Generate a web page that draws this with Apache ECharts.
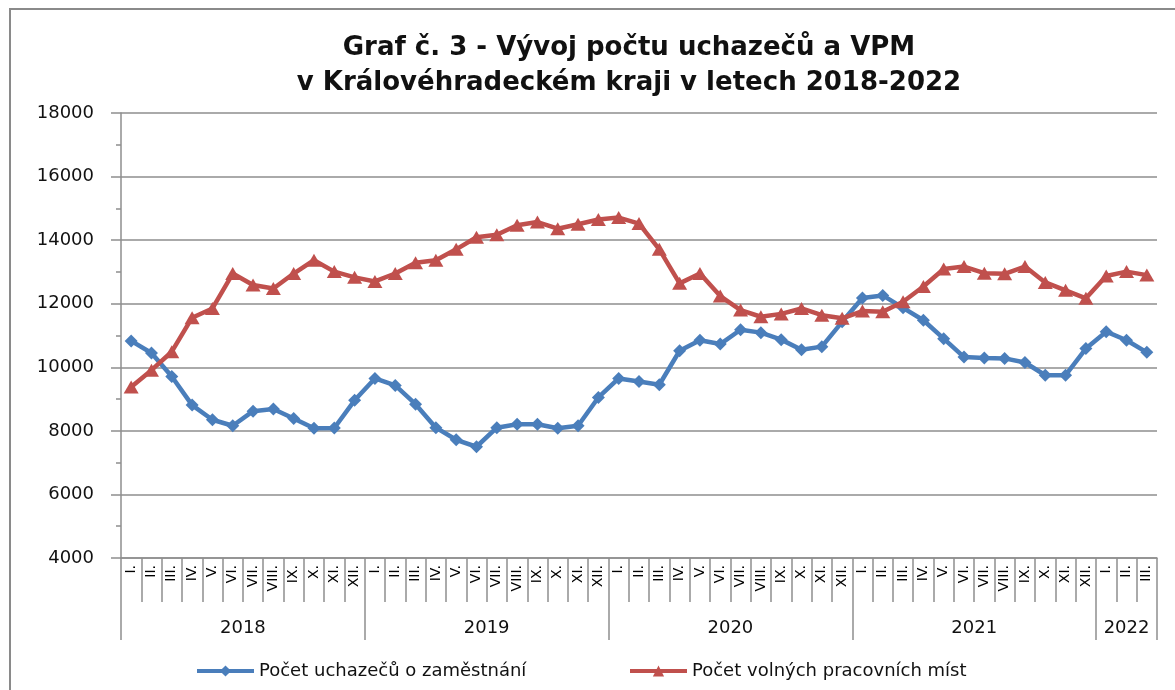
<!DOCTYPE html>
<html>
<head>
<meta charset="utf-8">
<script src="https://cdn.jsdelivr.net/npm/echarts@6/dist/echarts.min.js"></script>
<style>
html,body{margin:0;padding:0;background:#fff;}
#c{width:1175px;height:690px;}
</style>
</head>
<body>
<div id="c"></div>
<script>
const monthNames = ['I.','II.','III.','IV.','V.','VI.','VII.','VIII.','IX.','X.','XI.','XII.'];
const years = ['2018','2019','2020','2021','2022'];
const monthsPerYear = [12,12,12,12,3];
const yTicks = [4000,6000,8000,10000,12000,14000,16000,18000];

const uchazeci = [10830,10450,9710,8810,8350,8160,8620,8690,8390,8080,8090,8960,
  9650,9430,8840,8100,7720,7500,8100,8210,8210,8080,8160,9050,
  9650,9550,9450,10520,10850,10730,11180,11090,10870,10550,10650,11430,
  12180,12260,11870,11480,10900,10320,10290,10280,10150,9750,9750,10590,
  11120,10850,10470];
const vpm = [9380,9910,10490,11560,11850,12950,12590,12480,12950,13370,13010,12830,
  12700,12950,13290,13370,13710,14090,14170,14470,14570,14360,14500,14650,
  14710,14520,13710,12640,12950,12240,11800,11590,11680,11850,11640,11540,
  11770,11750,12060,12540,13090,13170,12960,12940,13170,12670,12420,12170,
  12870,13010,12900];

const seriesNames = ['Počet uchazečů o zaměstnání','Počet volných pracovních míst'];

// month categories
const months = [];
monthsPerYear.forEach(n => { for (let i = 0; i < n; i++) months.push(monthNames[i]); });

// half-step boundary axis for year grouping
const totalHalf = months.length * 2;
const yearAxisData = new Array(totalHalf + 1).fill('');
const yearSeparators = new Set([0]);
let acc = 0;
monthsPerYear.forEach((n, k) => {
  yearAxisData[acc * 2 + n] = years[k];
  acc += n;
  yearSeparators.add(acc * 2);
});

const gray = '#8e8e8e';
const fontFam = 'DejaVu Sans';
const blue = '#4a7ebb';
const red = '#c0504d';

const legendBase = {
  itemWidth: 57, itemHeight: 14, top: 657,
  lineStyle: { width: 4 },
  textStyle: { fontFamily: fontFam, fontSize: 18, color: '#111' }
};

const chart = echarts.init(document.getElementById('c'));
chart.setOption({
  animation: false,
  backgroundColor: '#fff',
  textStyle: { fontFamily: fontFam },
  graphic: [{
    type: 'rect', silent: true, z: -10,
    shape: { x: 10, y: 9, width: 1200, height: 720 },
    style: { fill: 'none', stroke: '#8a8a8a', lineWidth: 2 }
  }],
  title: {
    text: 'Graf č. 3 - Vývoj počtu uchazečů a VPM\nv Královéhradeckém kraji v letech 2018-2022',
    left: 624, top: 26, textAlign: 'center',
    textStyle: { fontFamily: 'DejaVu Sans', fontWeight: 'bold', fontSize: 26, lineHeight: 35, color: '#111' }
  },
  legend: [
    Object.assign({}, legendBase, { data: [seriesNames[0]], left: 190 }),
    Object.assign({}, legendBase, { data: [seriesNames[1]], left: 623 })
  ],
  grid: { left: 121, right: 18, top: 113, bottom: 132, containLabel: false },
  xAxis: [{
    type: 'category', data: months, boundaryGap: true, position: 'bottom',
    axisLine: { lineStyle: { color: gray, width: 1.5 } },
    axisTick: { show: true, interval: 0, length: 44, lineStyle: { color: gray, width: 1.5 } },
    axisLabel: { interval: 0, rotate: 90, fontSize: 14, margin: 7, color: '#000', fontFamily: fontFam }
  }, {
    type: 'category', data: yearAxisData, boundaryGap: false, position: 'bottom', offset: 0,
    axisLine: { show: false },
    axisTick: { show: true, length: 82, interval: (i) => yearSeparators.has(i), lineStyle: { color: gray, width: 1.5 } },
    axisLabel: { interval: 0, fontSize: 18, margin: 61, color: '#111', fontFamily: fontFam },
    splitLine: { show: false }
  }],
  yAxis: {
    type: 'value', min: yTicks[0], max: yTicks[yTicks.length - 1], interval: 2000,
    axisLine: { show: true, lineStyle: { color: gray, width: 1.5 } },
    axisTick: { show: true, length: 10, lineStyle: { color: gray, width: 1.5 } },
    minorTick: { show: true, splitNumber: 2, length: 5, lineStyle: { color: gray, width: 1.5 } },
    axisLabel: { fontSize: 18, margin: 27, color: '#111', fontFamily: fontFam, formatter: (v) => String(v) },
    splitLine: { show: true, lineStyle: { color: gray, width: 1.5 } }
  },
  series: [{
    name: seriesNames[0], type: 'line', data: uchazeci, xAxisIndex: 0,
    symbol: 'diamond', symbolSize: 13,
    lineStyle: { color: blue, width: 4.5 },
    itemStyle: { color: blue }
  }, {
    name: seriesNames[1], type: 'line', data: vpm, xAxisIndex: 0,
    symbol: 'triangle', symbolSize: [15, 13],
    lineStyle: { color: red, width: 4.5 },
    itemStyle: { color: red }
  }]
});
</script>
</body>
</html>
